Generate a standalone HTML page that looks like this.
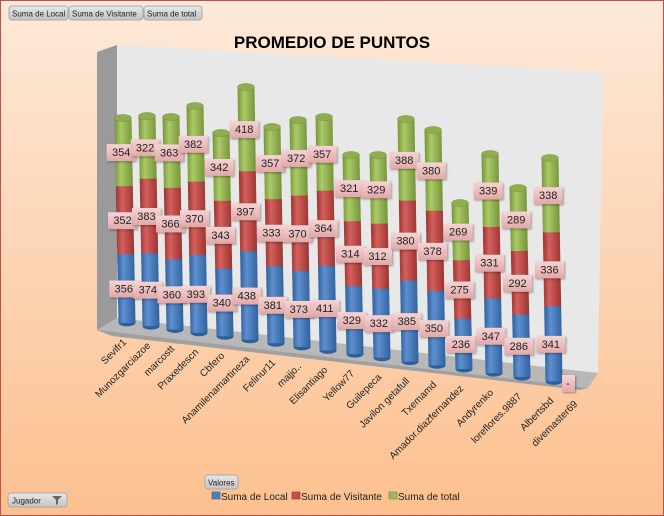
<!DOCTYPE html>
<html><head><meta charset="utf-8"><style>
body{margin:0;width:664px;height:516px;overflow:hidden}
svg{display:block;font-family:"Liberation Sans",sans-serif}
</style></head><body>
<svg id="s" width="664" height="516" xmlns="http://www.w3.org/2000/svg">
<defs>
<linearGradient id="bg" x1="0" y1="0" x2="0" y2="1"><stop offset="0" stop-color="#fde9d9"/><stop offset="1" stop-color="#fcc08f"/></linearGradient>
<linearGradient id="gB" x1="0" x2="1"><stop offset="0" stop-color="#2f5f9a"/><stop offset="0.35" stop-color="#5d90d0"/><stop offset="1" stop-color="#30619c"/></linearGradient>
<linearGradient id="gR" x1="0" x2="1"><stop offset="0" stop-color="#9a3431"/><stop offset="0.35" stop-color="#d5605c"/><stop offset="1" stop-color="#9a3431"/></linearGradient>
<linearGradient id="gG" x1="0" x2="1"><stop offset="0" stop-color="#76923a"/><stop offset="0.35" stop-color="#aacb66"/><stop offset="1" stop-color="#76923a"/></linearGradient>
<linearGradient id="lb" x1="0" y1="0" x2="0" y2="1"><stop offset="0" stop-color="#f5d4d4"/><stop offset="1" stop-color="#e2a8a8"/></linearGradient>
<linearGradient id="btn" x1="0" y1="0" x2="0" y2="1"><stop offset="0" stop-color="#e8e8e8"/><stop offset="1" stop-color="#c4c4c4"/></linearGradient>
</defs>
<rect x="0.5" y="0.5" width="663" height="515" fill="url(#bg)" stroke="#c0504d"/>
<g font-size="8" fill="#222">
<rect x="9" y="6" width="59" height="14" rx="3" fill="url(#btn)" stroke="#aaa"/><text x="12" y="16.5">Suma de Local</text>
<rect x="69" y="6" width="74" height="14" rx="3" fill="url(#btn)" stroke="#aaa"/><text x="72" y="16.5">Suma de Visitante</text>
<rect x="144" y="6" width="58" height="14" rx="3" fill="url(#btn)" stroke="#aaa"/><text x="147" y="16.5">Suma de total</text>
<rect x="205" y="475" width="33" height="14" rx="3" fill="url(#btn)" stroke="#aaa"/><text x="208" y="485.5">Valores</text>
<rect x="8" y="493" width="59" height="14" rx="3" fill="url(#btn)" stroke="#aaa"/><text x="12" y="503.5">Jugador</text>
<path d="M52 496h10l-4 4v4l-2 1v-5z" fill="#666"/>
</g>
<text x="332" y="48" text-anchor="middle" font-size="17" font-weight="bold">PROMEDIO DE PUNTOS</text>
<polygon points="97,52 117,45 117,318 112,336 97,330" fill="#9a9a9a"/>
<polygon points="117,45 603,72 598,373 117,318" fill="#e8e8e8"/>
<polygon points="97,330 117,318 598,373 588,388 112,336" fill="#b8b8b8"/>
<polygon points="97,330 112,336 580,390 588,388" fill="#a0a0a0"/>
<g id="cols"></g>
<g font-size="10" fill="#1f1f1f">
<rect x="212" y="492" width="8" height="7" fill="#4f81bd" stroke="#385d8a" stroke-width=".6"/><text x="221" y="500">Suma de Local</text>
<rect x="292" y="492" width="8" height="7" fill="#c0504d" stroke="#8c3836" stroke-width=".6"/><text x="301" y="500">Suma de Visitante</text>
<rect x="389" y="492" width="8" height="7" fill="#9bbb59" stroke="#71893f" stroke-width=".6"/><text x="398" y="500">Suma de total</text>
</g>
</svg>
<script>
var names=["Sevifr1","Munozgarciazoe","marcostt","Praxedescn","Cbfero","Anamilenamartineza","Felinur11","majjo..","Elisantiago","Yellow77","Guilepeca","Javilon getafull","Txemamd","Amador.diazfernandez","Andyrenko","loreflores.9887","Albertsbd","divemaster69"];
var d=[[356,352,354],[374,383,322],[360,366,363],[393,370,382],[340,343,342],[438,397,418],[381,333,357],[373,370,372],[411,364,357],[329,314,321],[332,312,329],[385,380,388],[350,378,380],[236,275,269],[347,331,339],[286,292,289],[341,336,338]];
var tops=[118,116,117,106,133,87,127,120,117,155,155,119,130,203,154,188,158];
var xs=[123,147,171,195,221,246,272,298,324,351,378,406,433,460,490,518,550];
var fills=["url(#gB)","url(#gR)","url(#gG)"];
var h="",lab="",w=8.5;
function yb(x){return 323+(x-128)*0.137;}
for(var i=0;i<17;i++){
 var xt=xs[i],xbb=xt+4,b=yb(xbb),t=tops[i],tot=d[i][0]+d[i][1]+d[i][2];
 var y0=b;
 h+='<ellipse cx="'+xbb+'" cy="'+b+'" rx="'+w+'" ry="3.5" fill="#2f5f9a"/>';
 for(var k=0;k<3;k++){
  var y1=y0-(b-t)*d[i][k]/tot;
  var fa=(b-y0)/(b-t),fb=(b-y1)/(b-t);
  var xa=xbb-4*fa,xb2=xbb-4*fb;
  h+='<polygon points="'+(xa-w)+','+y0+' '+(xa+w)+','+y0+' '+(xb2+w)+','+y1+' '+(xb2-w)+','+y1+'" fill="'+fills[k]+'"/>';
  if(k<2)h+='<ellipse cx="'+xb2+'" cy="'+y1+'" rx="'+w+'" ry="3" fill="'+fills[k]+'"/>';
  var ym=(y0+y1)/2,xm=(xa+xb2)/2-3;
  lab+='<rect x="'+(xm-14)+'" y="'+(ym-8)+'" width="29" height="17" fill="url(#lb)" style="filter:drop-shadow(1px 1px 1px rgba(0,0,0,.35))"/><text x="'+(xm+0.5)+'" y="'+(ym+4)+'" text-anchor="middle">'+d[i][k]+'</text>';
  y0=y1;
 }
 h+='<ellipse cx="'+xt+'" cy="'+t+'" rx="'+w+'" ry="3.5" fill="#8fae4f" stroke="#76923a" stroke-width=".5"/>';
}
var xl="";
for(var i=0;i<18;i++){
 var x=i<17?xs[i]+4:578,y=yb(x)+20;
 xl+='<text transform="translate('+(x)+','+y+') rotate(-45)" text-anchor="end">'+names[i]+'</text>';
}
lab+='<rect x="562" y="375" width="13" height="17" fill="url(#lb)" style="filter:drop-shadow(1px 1px 1px rgba(0,0,0,.35))"/><text x="568" y="387" text-anchor="middle">-</text>';
document.getElementById("cols").innerHTML=h+'<g font-size="11" fill="#1f1f1f">'+lab+'</g><g font-size="10" fill="#1f1f1f">'+xl+'</g>';
</script>
</body></html>
